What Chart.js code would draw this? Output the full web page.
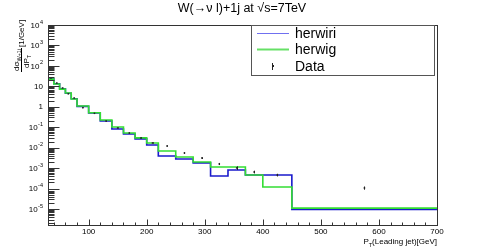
<!DOCTYPE html>
<html>
<head>
<meta charset="utf-8">
<script src="https://cdn.jsdelivr.net/npm/chart.js@4"></script>
<style>
  html, body { margin: 0; padding: 0; background: #fff; }
  #chart { display: block; }
</style>
</head>
<body>
<canvas id="chart" width="485" height="252"></canvas>
<script>
// === values ===
const BIN_EDGES = [30, 40, 50, 60, 70, 80, 100, 120, 140, 160, 180, 200, 220, 250, 280, 310, 340, 370, 400, 450, 700];
const HERWIRI = [23.5, 13.4, 7.6, 4.6, 2.45, 1.05, 0.50, 0.200, 0.082, 0.047, 0.027, 0.0135, 0.0039, 0.0028, 0.0018, 0.00041, 0.00081, 0.00046, 0.00046, 9.5e-6];
const HERWIG = [22.5, 13.0, 7.3, 4.75, 2.4, 1.1, 0.51, 0.226, 0.103, 0.052, 0.030, 0.017, 0.0069, 0.0035, 0.0020, 0.00114, 0.00114, 0.00046, 0.00012, 1.1e-5];
const DATA = [25.5, 14.5, 8.3, 4.3, 2.7, 0.9, 0.48, 0.20, 0.092, 0.052, 0.030, 0.017, 0.0121, 0.0055, 0.0031, 0.0016, 0.00102, 0.00065, 0.00046, 0.000107];
const DATA_ERR = [0.02, 0.02, 0.02, 0.02, 0.02, 0.03, 0.03, 0.04, 0.05, 0.05, 0.06, 0.07, 0.08, 0.1, 0.1, 0.12, 0.2, 0.15, 0.15, 0.18]; // relative
const X_TICKS = [100, 200, 300, 400, 500, 600, 700];
const X_MINOR_STEP = 20;
const Y_TICK_EXPONENTS = [-5, -4, -3, -2, -1, 0, 1, 2, 3, 4];

const X_MIN = 30, X_MAX = 700;
const Y_MIN = 1.65e-6, Y_MAX = 1e4;

const BLUE = '#1a1acc';
const GREEN = '#33dd33';
const FONT = '"Liberation Sans", Arial, Helvetica, sans-serif';

// histogram as stepped line: one point per lower edge + closing point at the last edge
function histPoints(values) {
    return BIN_EDGES.map((e, i) => ({ x: e, y: values[Math.min(i, values.length - 1)] }));
}

const dataPoints = DATA.map((v, i) => ({ x: (BIN_EDGES[i] + BIN_EDGES[i + 1]) / 2, y: v, err: DATA_ERR[i] }));

// small vertical error bars on the data markers
const errorBars = {
    id: 'errorBars',
    afterDatasetsDraw(chart) {
        const { ctx, scales: { x, y } } = chart;
        ctx.save();
        ctx.strokeStyle = '#222';
        ctx.lineWidth = 1;
        dataPoints.forEach(p => {
            const px = Math.round(x.getPixelForValue(p.x)) + 0.5;
            ctx.beginPath();
            ctx.moveTo(px, y.getPixelForValue(p.y * (1 + p.err)));
            ctx.lineTo(px, y.getPixelForValue(p.y * (1 - p.err)));
            ctx.stroke();
        });
        ctx.restore();
    }
};

// ROOT-like frame: inner ticks, labels, titles, legend
const rootFrame = {
    id: 'rootFrame',
    afterDraw(chart) {
        const { ctx, chartArea: a, scales: { x, y } } = chart;
        const L = a.left + 0.5, R = Math.round(a.right) + 0.5, T = a.top + 0.5, B = Math.round(a.bottom) + 0.5;
        ctx.save();
        ctx.strokeStyle = '#333';
        ctx.lineWidth = 1;
        ctx.strokeRect(L, T, R - L, B - T);

        // y ticks (log, minor at 2..9)
        ctx.beginPath();
        for (let n = -6; n <= 4; n++) {
            for (let k = 1; k <= 9; k++) {
                const v = k * Math.pow(10, n);
                if (v < Y_MIN || v > Y_MAX) continue;
                const py = Math.round(y.getPixelForValue(v)) + 0.5;
                ctx.moveTo(L, py);
                ctx.lineTo(L + (k === 1 ? 11 : 6), py);
            }
        }
        // x ticks
        for (let t = X_MIN + 10; t <= X_MAX; t += X_MINOR_STEP) {
            const px = Math.round(x.getPixelForValue(t)) + 0.5;
            ctx.moveTo(px, B);
            ctx.lineTo(px, B - (t % 100 === 0 ? 6 : 3));
        }
        ctx.stroke();

        ctx.fillStyle = '#000';
        // y labels
        Y_TICK_EXPONENTS.forEach(n => {
            const py = y.getPixelForValue(Math.pow(10, n));
            const base = n === 0 ? '1' : '10';
            const sup = (n === 0 || n === 1) ? '' : String(n);
            ctx.font = '8px ' + FONT;
            const wb = ctx.measureText(base).width;
            ctx.font = '5.5px ' + FONT;
            const ws = sup ? ctx.measureText(sup).width + 0.5 : 0;
            const right = 43;
            ctx.textBaseline = 'middle';
            ctx.textAlign = 'left';
            ctx.font = '8px ' + FONT;
            ctx.fillText(base, right - ws - wb, py + 0.5);
            if (sup) {
                ctx.font = '5.5px ' + FONT;
                ctx.fillText(sup, right - ws + 0.5, py - 3);
            }
        });

        // x labels
        ctx.font = '8px ' + FONT;
        ctx.textAlign = 'center';
        ctx.textBaseline = 'middle';
        X_TICKS.forEach(t => ctx.fillText(String(t), x.getPixelForValue(t), 232));

        // x title
        ctx.textBaseline = 'alphabetic';
        ctx.textAlign = 'left';
        const rest = '(Leading jet)[GeV]';
        ctx.font = '8px ' + FONT;
        const wRest = ctx.measureText(rest).width;
        const wP = ctx.measureText('P').width;
        ctx.font = '5.5px ' + FONT;
        const wT = ctx.measureText('T').width;
        let xs = 437 - wRest - wT - wP;
        ctx.font = '8px ' + FONT;
        ctx.fillText('P', xs, 244);
        ctx.font = '5.5px ' + FONT;
        ctx.fillText('T', xs + wP, 246.5);
        ctx.font = '8px ' + FONT;
        ctx.fillText(rest, xs + wP + wT, 244);

        // y title (rotated fraction)
        ctx.save();
        ctx.translate(21, 72);
        ctx.rotate(-Math.PI / 2);
        ctx.font = '8px ' + FONT;
        ctx.textAlign = 'left';
        ctx.fillText('d\u03c3', 1, -2.5);
        const wds = ctx.measureText('d\u03c3').width;
        ctx.font = '5.5px ' + FONT;
        ctx.fillText('W+1j', 1 + wds, 0);
        ctx.font = '8px ' + FONT;
        ctx.fillText('dP', 4, 8);
        const wdp = ctx.measureText('dP').width;
        ctx.font = '5.5px ' + FONT;
        ctx.fillText('T', 4 + wdp, 10);
        ctx.beginPath();
        ctx.moveTo(0, 0.5);
        ctx.lineTo(24, 0.5);
        ctx.strokeStyle = '#000';
        ctx.stroke();
        ctx.font = '8px ' + FONT;
        ctx.fillText('[1/GeV]', 25, 3);
        ctx.restore();

        // title
        ctx.font = '12.5px ' + FONT;
        ctx.textAlign = 'center';
        ctx.textBaseline = 'middle';
        ctx.fillText('W(\u2192\u03bd l)+1j at \u221as=7TeV', 242, 9);

        // legend
        const lx0 = 251.5, lx1 = 434.5, ly0 = T, ly1 = 75.5;
        ctx.fillStyle = '#fff';
        ctx.fillRect(lx0, ly0, lx1 - lx0, ly1 - ly0);
        ctx.strokeStyle = '#555';
        ctx.strokeRect(lx0, ly0, lx1 - lx0, ly1 - ly0);
        const entries = [
            { label: 'herwiri', color: '#7070f0', w: 1, yy: 33 },
            { label: 'herwig', color: '#66e066', w: 2, yy: 49 },
            { label: 'Data', color: '#000', w: 0, yy: 66 }
        ];
        ctx.font = '14px ' + FONT;
        ctx.textAlign = 'left';
        ctx.textBaseline = 'middle';
        entries.forEach(e => {
            if (e.w) {
                ctx.strokeStyle = e.color;
                ctx.lineWidth = e.w;
                ctx.beginPath();
                ctx.moveTo(257, e.yy + 0.5);
                ctx.lineTo(289, e.yy + 0.5);
                ctx.stroke();
            } else {
                ctx.fillStyle = '#222';
                ctx.fillRect(272, e.yy - 1, 2, 2);
                ctx.fillRect(272, e.yy - 3, 1, 7);
            }
            ctx.fillStyle = '#000';
            ctx.fillText(e.label, 295, e.yy + 1);
        });
        ctx.restore();
    }
};

new Chart(document.getElementById('chart'), {
    data: {
        datasets: [
            {
                type: 'scatter', label: 'Data', data: dataPoints, order: 0,
                pointStyle: 'rect', pointRadius: 1.1, backgroundColor: '#222', borderWidth: 0
            },
            {
                type: 'line', label: 'herwig', data: histPoints(HERWIG), order: 1,
                stepped: true, borderColor: GREEN, borderWidth: 1.6, pointRadius: 0, fill: false
            },
            {
                type: 'line', label: 'herwiri', data: histPoints(HERWIRI), order: 2,
                stepped: true, borderColor: BLUE, borderWidth: 1.6, pointRadius: 0, fill: false
            }
        ]
    },
    options: {
        responsive: false,
        animation: false,
        devicePixelRatio: 1,
        layout: { padding: { left: 48, right: 48, top: 25, bottom: 27 } },
        scales: {
            x: { type: 'linear', min: X_MIN, max: X_MAX, display: false },
            y: { type: 'logarithmic', min: Y_MIN, max: Y_MAX, display: false }
        },
        plugins: { legend: { display: false }, title: { display: false }, tooltip: { enabled: false } }
    },
    plugins: [errorBars, rootFrame]
});
</script>
</body>
</html>
